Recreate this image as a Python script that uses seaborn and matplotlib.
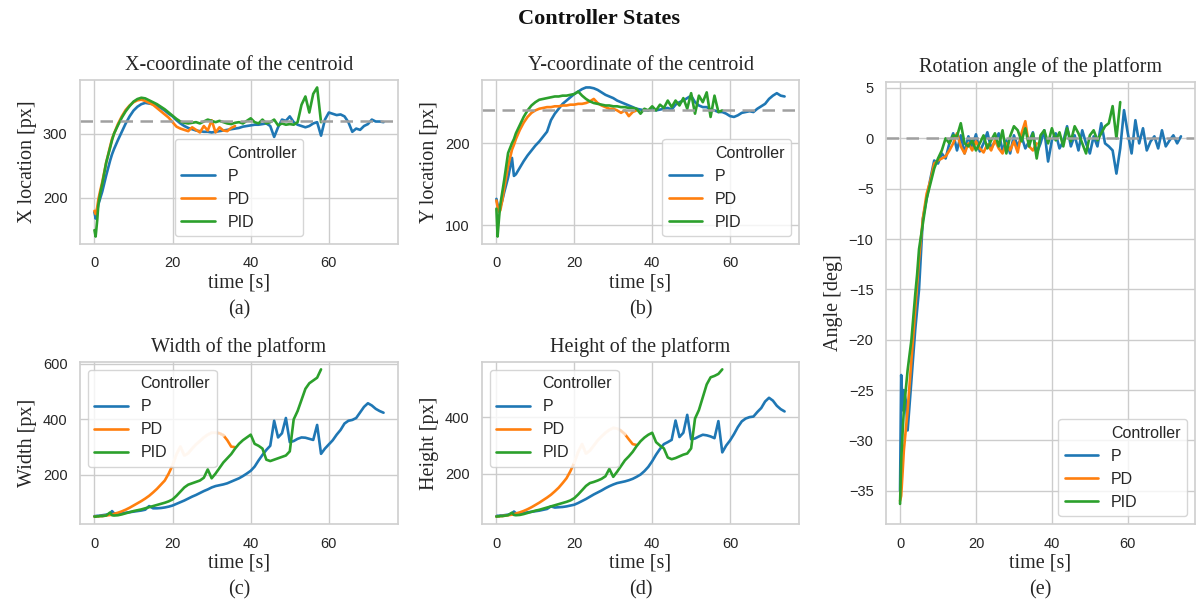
import numpy as np
import pandas as pd
import matplotlib
matplotlib.use("Agg")
import matplotlib.pyplot as plt
from matplotlib.lines import Line2D
import seaborn as sns

# ---------------- data ----------------
controllers = ["P", "PD", "PID"]
setpoint_x = 320
setpoint_y = 240
setpoint_angle = 0

t_P = [0, 0.3, 0.7, 1, 1.5, 2, 3, 4, 4.5,
       5, 6, 7, 8, 9, 10, 11, 12, 13, 14,
       15, 16, 17, 18, 19, 20, 21, 22, 23, 24,
       25, 26, 27, 28, 29, 30, 31, 32, 33, 34,
       35, 36, 37, 38, 39, 40, 41, 42, 43, 44,
       45, 46, 47, 48, 49, 50, 51, 52, 53, 54,
       55, 56, 57, 58, 59, 60, 61, 62, 63, 64,
       65, 66, 67, 68, 69, 70, 71, 72, 73, 74]
x_P = [178, 168, 180, 190, 200, 210, 235, 258, 268,
       276, 290, 303, 316, 327, 336, 342, 346, 348, 347,
       346, 343, 340, 336, 331, 327, 321, 316, 312, 309,
       307, 305, 304, 303, 303, 302, 303, 304, 305, 306,
       307, 308, 309, 311, 312, 313, 314, 314, 315, 316,
       312, 295, 310, 322, 320, 327, 318, 314, 312, 310,
       312, 316, 318, 297, 322, 333, 331, 329, 330, 327,
       318, 303, 308, 306, 312, 315, 322, 319, 319, 318]
y_P = [132, 125, 120, 122, 130, 140, 158, 182, 160,
       162, 170, 178, 185, 191, 197, 202, 208, 214, 228,
       236, 242, 248, 252, 256, 260, 263, 266, 268, 268,
       267, 265, 262, 259, 257, 255, 252, 250, 248, 246,
       244, 242, 241, 240, 240, 241, 240, 241, 242, 243,
       241, 247, 250, 252, 255, 258, 250, 246, 244, 244,
       241, 240, 238, 238, 236, 233, 232, 234, 237, 238,
       239, 238, 242, 245, 248, 254, 258, 261, 258, 257]
w_P = [52, 52, 53, 53, 54, 55, 57, 60, 70,
       62, 60, 62, 64, 66, 68, 70, 72, 75, 88,
       80, 80, 81, 83, 86, 90, 96, 102, 108, 115,
       122, 128, 135, 142, 148, 155, 160, 163, 166, 170,
       176, 182, 188, 196, 205, 215, 230, 252, 272, 290,
       305, 395, 335, 350, 405, 318, 322, 330, 335, 334,
       330, 326, 380, 276, 295, 310, 325, 345, 362, 385,
       395, 398, 405, 425, 445, 458, 450, 438, 430, 424]
h_P = [52, 53, 53, 54, 54, 55, 57, 61, 68,
       62, 61, 63, 65, 67, 69, 71, 74, 77, 86,
       82, 83, 84, 86, 89, 92, 98, 105, 112, 120,
       128, 135, 142, 150, 157, 163, 168, 171, 174, 178,
       183, 190, 198, 210, 225, 245, 268, 288, 305, 312,
       320, 388, 330, 345, 408, 322, 325, 332, 338, 336,
       332, 326, 386, 276, 300, 318, 340, 365, 385, 395,
       400, 402, 418, 432, 455, 468, 458, 440, 428, 420]
a_P = [-35, -23.5, -27, -25, -26, -29, -24, -19, -17,
       -15, -8, -6, -4, -2.2, -2.5, -1.5, -2, -0.5, 0.5,
       -1.2, 0.3, -1.5, 0.2, -0.8, 0.4, -1.3, -0.5, 0.6, -1.0,
       -0.3, 0.5, -1.2, -0.2, -1.5, 0.3, -0.8, 0.2, -1.0, -0.3,
       0.6, -1.5, -0.5, 0.8, -2.3, -0.2, 0.5, -1.0, -0.3, 1.2,
       -0.8, 0.3, -1.2, 0.8, -0.5, -1.5, 0.2, -0.8, 1.5, -0.5,
       -0.8, -1.2, -3.5, -1.0, 2.8, 0.5, -1.5, 1.8, -0.5, 1.0,
       -1.2, -0.3, 0.2, -1.0, 0.8, -0.8, -0.2, 0.3, -0.5, 0.2]

t_PD = [0, 0.3, 0.7, 1, 1.5, 2, 3, 4, 4.5,
        5, 6, 7, 8, 9, 10, 11, 12, 13, 14,
        15, 16, 17, 18, 19, 20, 21, 22, 23, 24,
        25, 26, 27, 28, 29, 30, 31, 32, 33, 34,
        35, 36]
x_PD = [180, 175, 185, 198, 212, 225, 255, 280, 292,
        300, 315, 327, 337, 344, 349, 352, 353, 351, 348,
        345, 340, 335, 330, 325, 318, 311, 308, 306, 304,
        310, 306, 302, 312, 305, 321, 302, 310, 305, 304,
        309, 312]
y_PD = [130, 122, 116, 118, 130, 145, 172, 192, 198,
        205, 216, 225, 232, 237, 240, 242, 243, 244, 244,
        245, 245, 246, 246, 247, 247, 248, 248, 249, 251,
        254, 249, 246, 244, 242, 242, 240, 237, 240, 233,
        238, 240]
w_PD = [50, 50, 51, 51, 52, 52, 54, 56, 57,
        60, 64, 69, 75, 82, 90, 98, 106, 115, 125,
        137, 150, 165, 180, 205, 235, 275, 302, 270, 278,
        295, 310, 322, 335, 345, 352, 352, 350, 343, 325,
        302, 300]
h_PD = [50, 51, 51, 52, 52, 53, 55, 57, 58,
        61, 65, 70, 76, 83, 91, 99, 108, 117, 127,
        139, 152, 168, 185, 210, 240, 278, 305, 272, 282,
        300, 318, 332, 345, 355, 362, 360, 352, 340, 322,
        305, 302]
a_PD = [-36, -35.5, -33, -31, -29, -27, -22, -17, -14.5,
        -12, -8, -5.5, -4.2, -2.5, -2.2, -2.0, -1.8, -1.2, -0.5,
        0.5, -0.8, -1.5, -0.5, -1.2, -0.3, -1.0, -1.4, -0.6, -1.2,
        -0.2, -1.0, -1.5, -0.5, -1.2, -0.3, -1.4, 0.5, 1.7, -0.8,
        -1.2, -0.5]

t_PID = [0, 0.3, 0.7, 1, 1.5, 2, 3, 4, 4.5,
         5, 6, 7, 8, 9, 10, 11, 12, 13, 14,
         15, 16, 17, 18, 19, 20, 21, 22, 23, 24,
         25, 26, 27, 28, 29, 30, 31, 32, 33, 34,
         35, 36, 37, 38, 39, 40, 41, 42, 43, 44,
         45, 46, 47, 48, 49, 50, 51, 52, 53, 54,
         55, 56, 57, 58]
x_PID = [150, 140, 165, 190, 208, 222, 255, 278, 290,
         300, 313, 325, 335, 343, 350, 354, 356, 355, 352,
         349, 346, 342, 338, 333, 328, 323, 319, 317, 316,
         317, 318, 316, 319, 322, 320, 318, 320, 318, 316,
         315, 317, 318, 316, 320, 324, 318, 316, 322, 316,
         318, 322, 313, 316, 314, 315, 314, 318, 345, 358,
         333, 362, 372, 318]
y_PID = [120, 86, 110, 125, 140, 155, 188, 200, 205,
         212, 222, 232, 240, 246, 250, 253, 254, 255, 256,
         257, 257, 258, 258, 259, 260, 263, 258, 254, 251,
         249, 248, 247, 246, 246, 245, 245, 244, 244, 243,
         243, 242, 236, 242, 240, 245, 240, 247, 243, 252,
         244, 252, 246, 255, 242, 261, 236, 258, 250, 262,
         232, 258, 238, 240]
w_PID = [50, 50, 51, 51, 52, 52, 54, 65, 55,
         54, 55, 58, 62, 66, 70, 73, 76, 80, 84,
         88, 92, 96, 100, 105, 112, 125, 140, 155, 165,
         170, 175, 180, 190, 220, 188, 205, 225, 245, 260,
         275, 295, 312, 325, 335, 345, 312, 305, 295, 255,
         250, 255, 260, 265, 270, 285, 400, 430, 470, 510,
         530, 540, 550, 580]
h_PID = [50, 51, 51, 52, 52, 53, 55, 64, 56,
         55, 56, 59, 63, 67, 71, 74, 78, 82, 86,
         90, 94, 98, 102, 107, 115, 128, 143, 158, 168,
         172, 177, 183, 192, 218, 190, 208, 228, 248, 262,
         278, 298, 315, 328, 338, 345, 312, 300, 290, 258,
         252, 256, 262, 268, 272, 290, 395, 425, 470, 515,
         540, 545, 552, 568]
a_PID = [-36.3, -32, -29, -27, -25, -23, -20, -15.5, -13.5,
         -11, -8.5, -6, -4.5, -3, -2, -1.2, 0, -0.5, 0.3,
         0.2, 1.5, -0.5, -0.8, -0.2, -1.2, -0.5, 0.3, -1.0, -0.2,
         0.5, -0.8, 0.8, -1.5, 0.2, 1.2, 0.8, -0.3, 1.0, -0.8,
         0.5, -2.0, 0.3, 0.8, -0.5, 1.0, -0.2, 0.6, -0.8, 1.0,
         -0.3, 1.2, 0.5, -0.5, -1.5, 0.3, 0.8, -0.2, 0.5, 1.2,
         1.5, 3.2, 0.0, 3.6]

# ---------------- build frame ----------------
def frame(name, t, x, y, w, h, a):
    return pd.DataFrame({"time": t, "X": x, "Y": y, "W": w, "H": h,
                         "A": a, "Controller": name})

df = pd.concat([frame("P", t_P, x_P, y_P, w_P, h_P, a_P),
                frame("PD", t_PD, x_PD, y_PD, w_PD, h_PD, a_PD),
                frame("PID", t_PID, x_PID, y_PID, w_PID, h_PID, a_PID)],
               ignore_index=True)

# ---------------- style ----------------
sns.set_theme(style="whitegrid")
plt.rcParams["font.family"] = ["Liberation Sans", "DejaVu Sans"]
SERIF = ["Liberation Serif", "DejaVu Serif"]
palette = dict(zip(controllers, ["#1f77b4", "#ff7f0e", "#2ca02c"]))
TXT = "#262626"

W, H = 1198, 603
fig = plt.figure(figsize=(W / 100, H / 100), dpi=100)


def rect(left, top, right, bottom):
    return [left / W, 1 - bottom / H, (right - left) / W, (bottom - top) / H]


ax_a = fig.add_axes(rect(80, 80, 398, 244))
ax_b = fig.add_axes(rect(482, 80, 799, 244))
ax_c = fig.add_axes(rect(80, 362, 398, 524))
ax_d = fig.add_axes(rect(482, 362, 799, 524))
ax_e = fig.add_axes(rect(886, 82, 1195, 524))


def panel(ax, col, ylabel, title, letter, loc, ref=None):
    sns.lineplot(data=df, x="time", y=col, hue="Controller",
                 hue_order=controllers, palette=palette, ax=ax,
                 linewidth=1.9)
    if ref is not None:
        ax.axhline(ref, color="#a0a0a0", ls="--", lw=1.8, dashes=(5, 3))
    ax.set_title(title, fontfamily=SERIF, fontsize=14.5, color=TXT, pad=7)
    ax.set_xlabel(f"time [s]\n({letter})", fontfamily=SERIF, fontsize=14.5,
                  color=TXT, labelpad=2, linespacing=1.55)
    ax.set_ylabel(ylabel, fontfamily=SERIF, fontsize=14.5, color=TXT,
                  labelpad=4)
    ax.set_xticks([0, 20, 40, 60])
    ax.tick_params(labelsize=10.5, colors=TXT, pad=3)
    for s in ax.spines.values():
        s.set_color("#d0d0d0")
    # legend in the classic seaborn layout: the hue name as first entry
    handles, labels = ax.get_legend_handles_labels()
    blank = Line2D([], [], linestyle="none", marker=None)
    ax.legend([blank] + handles, ["Controller"] + labels, loc=loc,
              fontsize=11.5, handlelength=2.1, frameon=True)


panel(ax_a, "X", "X location [px]", "X-coordinate of the centroid", "a",
      "lower center", setpoint_x)
panel(ax_b, "Y", "Y location [px]", "Y-coordinate of the centroid", "b",
      "lower right", setpoint_y)
panel(ax_c, "W", "Width [px]", "Width of the platform", "c", "upper left")
panel(ax_d, "H", "Height [px]", "Height of the platform", "d", "upper left")
panel(ax_e, "A", "Angle [deg]", "Rotation angle of the platform", "e",
      "lower right", setpoint_angle)

ax_a.set_yticks([200, 300])
ax_b.set_yticks([100, 200])
ax_c.set_yticks([200, 400, 600])
ax_d.set_yticks([200, 400])
ax_e.set_yticks([-35, -30, -25, -20, -15, -10, -5, 0, 5])

# faded section of the PD trace in the size plots
pd_df = df[df["Controller"] == "PD"]
seg = pd_df[(pd_df["time"] >= 20) & (pd_df["time"] <= 33)]
for ax, col in [(ax_c, "W"), (ax_d, "H")]:
    ax.plot(seg["time"], seg[col], color="white", alpha=0.7, lw=2.4, zorder=3)

fig.suptitle("Controller States", fontfamily=SERIF, fontweight="bold",
             fontsize=16, color="#111111", y=0.985)

fig.savefig("out.png", dpi=100)
